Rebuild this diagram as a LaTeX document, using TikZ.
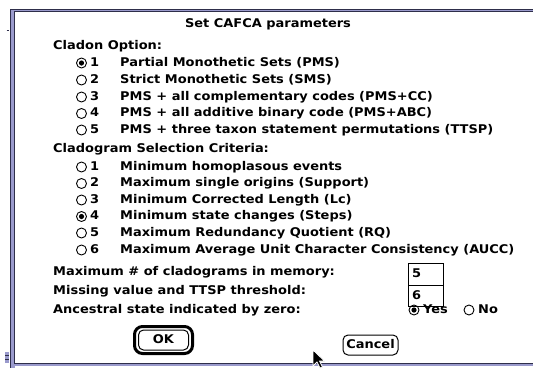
\documentclass[tikz,border=0pt]{standalone}
\usepackage{fontspec}
\newfontfamily\chicago[FakeStretch=1.08]{DejaVu Sans}
\definecolor{framelav}{HTML}{9A9ACC}
\definecolor{framedark}{HTML}{2E2E4A}
\tikzset{
  lbl/.style={anchor=west, inner sep=0pt, font=\chicago\bfseries\fontsize{12}{14}\selectfont,
    text height=9pt, text depth=2.5pt},
  radio/.style={draw, circle, line width=0.9pt, minimum size=10pt, inner sep=0pt},
  radioon/.style={radio, path picture={\fill (path picture bounding box.center) circle (2.6pt);}},
  field/.style={draw, line width=1pt, minimum width=35pt, inner sep=0pt},
  btn/.style={draw, rounded corners=5pt, line width=1pt, inner sep=0pt,
    font=\chicago\bfseries\fontsize{12}{14}\selectfont, text height=9pt, text depth=2.5pt}
}
\begin{document}
\begin{tikzpicture}[x=1pt, y=-1pt]
    \useasboundingbox (0,0) rectangle (533,368);
    \fill[white] (0,0) rectangle (533,368);
    % window frame
    \fill[framelav] (10,9) rectangle (15,368);
    \fill[framelav] (10,9) rectangle (533,12.3);
    \fill[framelav] (10,362.5) rectangle (533,366);
    \draw[framedark, line width=0.8pt] (10.4,9) -- (10.4,368);
    \draw[framedark, line width=0.8pt] (14,11.8) -- (14,363);
    \draw[framedark, line width=0.9pt] (10,9.4) -- (533,9.4);
    \draw[framedark, line width=0.9pt] (14,11.8) -- (533,11.8);
    \draw[framedark, line width=0.6pt] (14,363.2) -- (533,363.2);
    \draw[framedark, line width=0.8pt] (6.5,30) -- (8.5,30);
    \fill[framelav] (5,352) rectangle (9,363);
    \draw[framedark, line width=0.6pt] (5,355) -- (9,355) (5,359) -- (9,359);

    \node[lbl, anchor=center] (title) at (268,24) {Set CAFCA parameters};

    % cladon options
    \node[lbl] (cladon) at (53,46) {Cladon Option:};
    \node[radioon] (c1r) at (81.5,63) {};
    \node[lbl] (c1n) at (90,63) {1};
    \node[lbl] (c1t) at (120,63) {Partial Monothetic Sets (PMS)};
    \node[radio] (c2r) at (81.5,80) {};
    \node[lbl] (c2n) at (90,80) {2};
    \node[lbl] (c2t) at (120,80) {Strict Monothetic Sets (SMS)};
    \node[radio] (c3r) at (81.5,97) {};
    \node[lbl] (c3n) at (90,97) {3};
    \node[lbl] (c3t) at (120,97) {PMS + all complementary codes (PMS+CC)};
    \node[radio] (c4r) at (81.5,113.5) {};
    \node[lbl] (c4n) at (90,113.5) {4};
    \node[lbl] (c4t) at (120,113.5) {PMS + all additive binary code (PMS+ABC)};
    \node[radio] (c5r) at (81.5,130) {};
    \node[lbl] (c5n) at (90,130) {5};
    \node[lbl] (c5t) at (120,130) {PMS + three taxon statement permutations (TTSP)};

    % selection criteria
    \node[lbl] (crit) at (53,149) {Cladogram Selection Criteria:};
    \node[radio] (s1r) at (81.5,167) {};
    \node[lbl] (s1n) at (90,167) {1};
    \node[lbl] (s1t) at (120,167) {Minimum homoplasous events};
    \node[radio] (s2r) at (81.5,183.5) {};
    \node[lbl] (s2n) at (90,183.5) {2};
    \node[lbl] (s2t) at (120,183.5) {Maximum single origins (Support)};
    \node[radio] (s3r) at (81.5,200) {};
    \node[lbl] (s3n) at (90,200) {3};
    \node[lbl] (s3t) at (120,200) {Minimum Corrected Length (Lc)};
    \node[radioon] (s4r) at (81.5,216.5) {};
    \node[lbl] (s4n) at (90,216.5) {4};
    \node[lbl] (s4t) at (120,216.5) {Minimum state changes (Steps)};
    \node[radio] (s5r) at (81.5,233) {};
    \node[lbl] (s5n) at (90,233) {5};
    \node[lbl] (s5t) at (120,233) {Maximum Redundancy Quotient (RQ)};
    \node[radio] (s6r) at (81.5,250) {};
    \node[lbl] (s6n) at (90,250) {6};
    \node[lbl] (s6t) at (120,250) {Maximum Average Unit Character Consistency (AUCC)};

    % other settings
    \node[lbl] (maxclad) at (53,272) {Maximum \# of cladograms in memory:};
    \node[lbl] (missing) at (53,291) {Missing value and TTSP threshold:};
    \node[lbl] (ancest) at (53,310) {Ancestral state indicated by zero:};
    \node[field, minimum height=22pt] (memfield) at (425.5,274.5) {};
    \node[field, minimum height=21pt] (ttspfield) at (425.5,296) {};
    \node[lbl] (memval) at (412,274.5) {5};
    \node[lbl] (ttspval) at (412,296) {6};
    \node[radioon] (yesr) at (414,310) {};
    \node[lbl] (yest) at (423,310) {Yes};
    \node[radio] (nor) at (469,310) {};
    \node[lbl] (not) at (478,310) {No};

    % buttons
    \node[draw, rounded corners=8pt, line width=3pt, minimum width=58pt, minimum height=27pt] (okring) at (163.5,340) {};
    \node[btn, minimum width=50pt, minimum height=20pt] (ok) at (163.5,340) {OK};
    \node[btn, minimum width=55pt, minimum height=20pt] (cancel) at (370.5,345) {Cancel};

    % mouse pointer
    \filldraw[fill=black, draw=white, line width=0.8pt, line join=miter]
      (313,350) -- (313,366) -- (317,362) -- (320,368) -- (322.5,367) -- (319.5,361) -- (324.5,361) -- cycle;
\end{tikzpicture}
\end{document}
